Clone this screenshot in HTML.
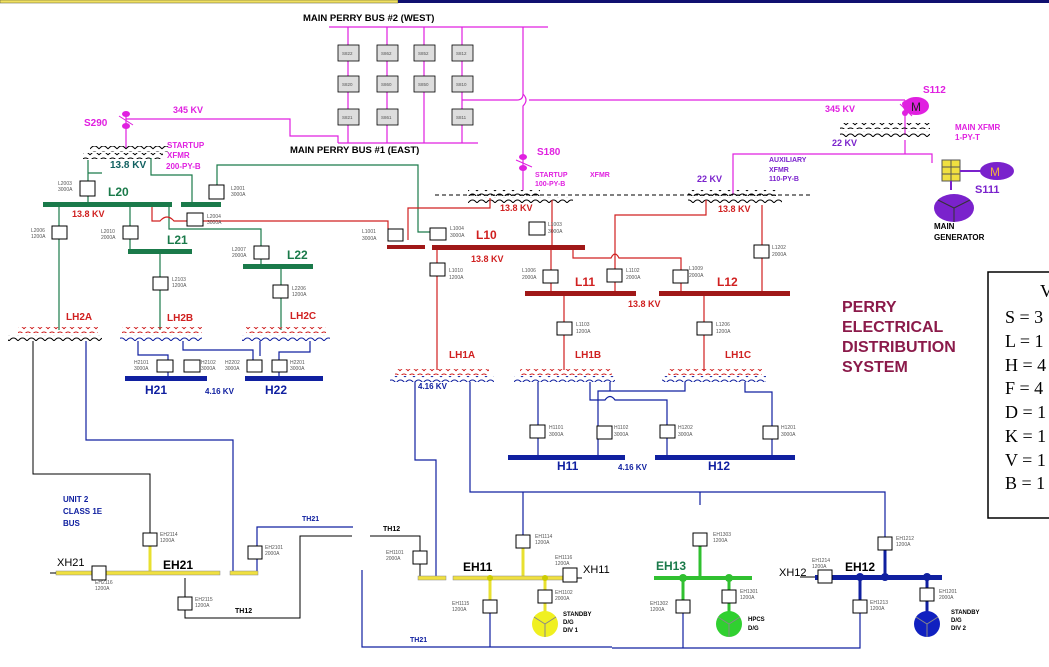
<!DOCTYPE html>
<html><head><meta charset="utf-8"><style>
body{margin:0;background:#fff}
svg{display:block;font-family:"Liberation Sans",sans-serif}
.b{fill:#fff;stroke:#000;stroke-width:1}
.s{font-size:5px;fill:#555}
.g{stroke:#1a7a4a;fill:none}
.r{stroke:#d02020;fill:none}
.n{stroke:#1020a0;fill:none}
.m{stroke:#e020e0;fill:none}
.p{stroke:#7a22cc;fill:none}
.k{stroke:#000;fill:none}
.lb{font-weight:bold;font-size:11px}
</style></head><body>
<svg width="1049" height="667" viewBox="0 0 1049 667">
<defs>
<pattern id="cr" width="8" height="6" patternUnits="userSpaceOnUse"><path d="M0 5Q4 -1 8 5" stroke="#d02020" fill="none"/></pattern>
<pattern id="ck" width="9" height="6" patternUnits="userSpaceOnUse"><path d="M0 5Q4.5 -1 9 5" stroke="#000" fill="none"/></pattern>
<pattern id="cn" width="9" height="6" patternUnits="userSpaceOnUse"><path d="M0 5Q4.5 -1 9 5" stroke="#1020a0" fill="none"/></pattern>
</defs>
<rect x="0" y="0" width="398" height="3" fill="#f0e060" stroke="#553" stroke-width=".5"/>
<rect x="398" y="0" width="651" height="3" fill="#101070"/>

<!-- main perry buses -->
<text x="303" y="21" class="lb" font-size="9.5" style="font-size:9.5px">MAIN PERRY BUS #2 (WEST)</text>
<text x="290" y="153" style="font-size:9.5px;font-weight:bold">MAIN PERRY BUS #1 (EAST)</text>
<g class="m" stroke-width="1.2">
<path d="M329 27H548M348 27V143M387 27V143M424 27V143M462 27V143M338 143H478M462 100H517q6 0 6 -6M523 27V94q6 6 0 12V160M529 100H905"/>
<path d="M126 119H290V136H338V143"/>
<path d="M126 112V148M905 100V135M523 160V190M733 195V154H932V163M905 154V140"/>
</g>
<g fill="#ddd" stroke="#000" stroke-width=".8">
<rect x="338" y="45" width="21" height="16"/><rect x="377" y="45" width="21" height="16"/><rect x="414" y="45" width="21" height="16"/><rect x="452" y="45" width="21" height="16"/>
<rect x="338" y="76" width="21" height="16"/><rect x="377" y="76" width="21" height="16"/><rect x="414" y="76" width="21" height="16"/><rect x="452" y="76" width="21" height="16"/>
<rect x="338" y="109" width="21" height="16"/><rect x="377" y="109" width="21" height="16"/><rect x="452" y="109" width="21" height="16"/>
</g>
<g class="s" style="font-size:4.5px"><text x="342" y="55">S822</text><text x="381" y="55">S862</text><text x="418" y="55">S852</text><text x="456" y="55">S812</text>
<text x="342" y="86">S820</text><text x="381" y="86">S860</text><text x="418" y="86">S850</text><text x="456" y="86">S810</text>
<text x="342" y="119">S821</text><text x="381" y="119">S861</text><text x="456" y="119">S811</text></g>

<!-- breakers magenta -->
<g fill="#e020e0"><ellipse cx="126" cy="114" rx="4" ry="3"/><ellipse cx="126" cy="126" rx="4" ry="3"/>
<ellipse cx="523" cy="157" rx="4" ry="3"/><ellipse cx="523" cy="168" rx="4" ry="3"/>
<ellipse cx="905" cy="104" rx="3" ry="3"/><ellipse cx="905" cy="113" rx="3" ry="3"/>
<ellipse cx="916" cy="106" rx="13" ry="9"/></g>
<path d="M119 116L133 125M516 160L532 167M900 104L912 116" stroke="#e020e0"/>
<text x="911" y="111" style="font-size:12px" fill="#222">M</text>
<g fill="#e020e0" style="font-size:9px;font-weight:bold">
<text x="84" y="126" style="font-size:10px">S290</text><text x="173" y="113">345 KV</text>
<text x="167" y="148" style="font-size:8px">STARTUP</text><text x="167" y="158" style="font-size:8px">XFMR</text><text x="166" y="169" style="font-size:8px">200-PY-B</text>
<text x="537" y="155" style="font-size:10px">S180</text><text x="535" y="177" style="font-size:7px">STARTUP</text><text x="535" y="186" style="font-size:7px">100-PY-B</text><text x="590" y="177" style="font-size:7px">XFMR</text>
<text x="923" y="93" style="font-size:10px">S112</text><text x="825" y="112">345 KV</text>
<text x="955" y="130" style="font-size:8px">MAIN XFMR</text><text x="955" y="140" style="font-size:8px">1-PY-T</text>
</g>
<g fill="#7a22cc" style="font-weight:bold">
<text x="832" y="146" style="font-size:9px">22 KV</text><text x="697" y="182" style="font-size:9px">22 KV</text>
<text x="769" y="162" style="font-size:7px">AUXILIARY</text><text x="769" y="172" style="font-size:7px">XFMR</text><text x="769" y="181" style="font-size:7px">110-PY-B</text>
<text x="975" y="193" style="font-size:11px">S111</text>
</g>
<!-- main gen -->
<rect x="942" y="160" width="18" height="21" fill="#f0e040" stroke="#555"/>
<path d="M942 167H960M942 174H960M951 160V181" stroke="#555"/>
<path d="M960 171H985M951 181V190" stroke="#7a22cc" stroke-width="2"/>
<ellipse cx="997" cy="171" rx="17" ry="9" fill="#7a22cc"/><text x="990" y="176" style="font-size:12px" fill="#f0b040">M</text>
<ellipse cx="954" cy="208" rx="20" ry="14" fill="#7a22cc"/><path d="M954 208V222M954 208L938 200M954 208L970 200" stroke="#333"/>
<text x="934" y="229" style="font-size:8px;font-weight:bold">MAIN</text><text x="934" y="240" style="font-size:8px;font-weight:bold">GENERATOR</text>

<!-- transformers -->
<rect x="90" y="146" width="78" height="6" fill="url(#ck)"/><rect x="83" y="153" width="80" height="6" fill="url(#ck)"/>
<rect x="840" y="123" width="90" height="6" fill="url(#ck)"/><rect x="840" y="131" width="90" height="6" fill="url(#ck)"/>
<path d="M435 195H812" stroke="#000" stroke-dasharray="4 3"/>
<rect x="468" y="190" width="72" height="6" fill="url(#ck)"/><rect x="468" y="197" width="105" height="6" fill="url(#ck)"/>
<rect x="688" y="190" width="88" height="6" fill="url(#ck)"/><rect x="688" y="197" width="94" height="6" fill="url(#ck)"/>
<text x="110" y="168" style="font-size:10px;font-weight:bold" fill="#106060">13.8 KV</text>

<!-- green 13.8 L2x -->
<g class="g" stroke-width="1.2">
<path d="M88 160V173H102M151 158V175H192V205M217 190V165H418V232H432M88 173V205"/>
<path d="M59 205V330M130 205V251M160 251V330M281 266V330M169 205V229H261V266"/>
</g>
<rect x="43" y="202" width="129" height="5" fill="#1a7a4a"/><rect x="181" y="202" width="40" height="5" fill="#1a7a4a"/>
<rect x="128" y="249" width="64" height="5" fill="#1a7a4a"/><rect x="243" y="264" width="70" height="5" fill="#1a7a4a"/>
<g fill="#1a7a4a" style="font-size:12px;font-weight:bold"><text x="108" y="196">L20</text><text x="167" y="244">L21</text><text x="287" y="259">L22</text></g>

<!-- red lines -->
<g class="r" stroke-width="1.2">
<path d="M152 207V221H160q7 -8 14 0H388V229M408 240V208H490V198M552 200V248M437 248V370M551 248V293M573 248V258H611q4 -8 8 0H681V293M615 293V215H706V200M762 205V293M564 293V370M704 293V370"/>
</g>
<g fill="#a01818"><rect x="387" y="245" width="38" height="4"/><rect x="432" y="245" width="153" height="5"/><rect x="525" y="291" width="111" height="5"/><rect x="659" y="291" width="131" height="5"/></g>
<g fill="#d02020" style="font-size:9px;font-weight:bold">
<text x="72" y="217">13.8 KV</text><text x="500" y="211">13.8 KV</text><text x="718" y="212">13.8 KV</text><text x="471" y="262">13.8 KV</text><text x="628" y="307">13.8 KV</text>
<text x="476" y="239" style="font-size:12px">L10</text><text x="575" y="286" style="font-size:12px">L11</text><text x="717" y="286" style="font-size:12px">L12</text>
<text x="66" y="320" style="font-size:10px">LH2A</text><text x="167" y="321" style="font-size:10px">LH2B</text><text x="290" y="319" style="font-size:10px">LH2C</text>
<text x="449" y="358" style="font-size:10px">LH1A</text><text x="575" y="358" style="font-size:10px">LH1B</text><text x="725" y="358" style="font-size:10px">LH1C</text>
</g>
<!-- LH transformers -->
<rect x="18" y="327" width="80" height="6" fill="url(#cr)"/><rect x="8" y="335" width="94" height="6" fill="url(#ck)"/>
<rect x="122" y="327" width="80" height="6" fill="url(#cr)"/><rect x="120" y="335" width="82" height="6" fill="url(#cn)"/>
<rect x="246" y="327" width="80" height="6" fill="url(#cr)"/><rect x="242" y="335" width="88" height="6" fill="url(#cn)"/>
<rect x="395" y="369" width="94" height="6" fill="url(#cr)"/><rect x="390" y="376" width="104" height="6" fill="url(#cn)"/>
<rect x="520" y="369" width="92" height="6" fill="url(#cr)"/><rect x="514" y="376" width="101" height="6" fill="url(#cn)"/>
<rect x="668" y="369" width="94" height="6" fill="url(#cr)"/><rect x="662" y="376" width="104" height="6" fill="url(#cn)"/>

<!-- 4.16 kv blue -->
<g class="n" stroke-width="1.2">
<path d="M138 341V355H168V379M183 341V350H253V365M260 341V356M310 341V352H279V379M86 341V440H233V573"/>
<path d="M538 382V457M590 382V400H605q5 -7 10 0H667V457M610 382V391H598V457M685 382V391H605M745 382V392H772V457"/>
<path d="M415 382V460H436V578M470 382V492H885V570M523 492V535M700 492V505"/>
<path d="M257 575V527H353M362 570V647H612M612 648H860V613M490 613V647M683 613V648"/>
</g>
<path d="M33 341V474H150V535M185 578V618H300V536H352M370 536H420V578" class="k"/>
<g fill="#1020a0"><rect x="125" y="376" width="82" height="5"/><rect x="245" y="376" width="78" height="5"/><rect x="508" y="455" width="117" height="5"/><rect x="655" y="455" width="140" height="5"/></g>
<g fill="#1020a0" style="font-weight:bold">
<text x="145" y="394" style="font-size:12px">H21</text><text x="265" y="394" style="font-size:12px">H22</text><text x="205" y="394" style="font-size:8px">4.16 KV</text>
<text x="557" y="470" style="font-size:12px">H11</text><text x="708" y="470" style="font-size:12px">H12</text><text x="618" y="470" style="font-size:8px">4.16 KV</text>
<text x="418" y="389" style="font-size:8px">4.16 KV</text>
<text x="63" y="502" style="font-size:8px">UNIT 2</text><text x="63" y="514" style="font-size:8px">CLASS 1E</text><text x="63" y="526" style="font-size:8px">BUS</text>
<text x="302" y="521" style="font-size:7px">TH21</text><text x="410" y="642" style="font-size:7px">TH21</text>
</g>
<g style="font-size:7px;font-weight:bold"><text x="383" y="531">TH12</text><text x="235" y="613">TH12</text></g>

<!-- 1E buses -->
<g stroke-width="3" fill="none">
<path d="M150 546V573M523 548V578M490 578V600M545 578V590M545 603V612" stroke="#e8e030"/>
<path d="M700 546V578M683 578V600M729 578V590M729 603V612" stroke="#30c030"/>
<path d="M885 550V577M860 577V600M927 577V588M927 601V612" stroke="#1020a0"/>
</g>
<rect x="56" y="571" width="164" height="4" fill="#f0e040" stroke="#888" stroke-width=".5"/>
<rect x="230" y="571" width="28" height="4" fill="#f0e040" stroke="#888" stroke-width=".5"/>
<rect x="418" y="576" width="28" height="4" fill="#f0e040" stroke="#888" stroke-width=".5"/>
<rect x="453" y="576" width="120" height="4" fill="#f0e040" stroke="#888" stroke-width=".5"/>
<rect x="654" y="576" width="98" height="4" fill="#30c030"/>
<rect x="815" y="575" width="127" height="5" fill="#1020a0"/>
<path d="M50 573H56M573 578H582M800 577H815" stroke="#000"/>
<circle cx="490" cy="578" r="3" fill="#cc0"/><circle cx="545" cy="578" r="3" fill="#cc0"/>
<circle cx="683" cy="578" r="4" fill="#30c030"/><circle cx="729" cy="578" r="4" fill="#30c030"/>
<circle cx="860" cy="577" r="4" fill="#1020a0"/><circle cx="885" cy="577" r="4" fill="#1020a0"/><circle cx="927" cy="577" r="4" fill="#1020a0"/>
<circle cx="545" cy="624" r="13" fill="#f0f020"/><circle cx="729" cy="624" r="13" fill="#30d030"/><circle cx="927" cy="624" r="13" fill="#1020c0"/>
<g stroke="#888"><path d="M545 624V637M545 624L534 617M545 624L556 617M729 624V637M729 624L718 617M729 624L740 617M927 624V637M927 624L916 617M927 624L938 617"/></g>
<g style="font-size:12px;font-weight:bold"><text x="163" y="569">EH21</text><text x="463" y="571">EH11</text><text x="656" y="570" fill="#1a7a4a">EH13</text><text x="845" y="571">EH12</text></g>
<g style="font-size:11px"><text x="57" y="566">XH21</text><text x="583" y="573">XH11</text><text x="779" y="576">XH12</text></g>
<g style="font-size:6px;font-weight:bold"><text x="563" y="616">STANDBY</text><text x="563" y="624">D/G</text><text x="563" y="632">DIV 1</text>
<text x="748" y="621">HPCS</text><text x="748" y="630">D/G</text>
<text x="951" y="614">STANDBY</text><text x="951" y="622">D/G</text><text x="951" y="630">DIV 2</text></g>

<!-- breaker boxes -->
<g class="b">
<rect x="80" y="181" width="15" height="15"/><rect x="209" y="185" width="15" height="14"/><rect x="187" y="213" width="16" height="13"/>
<rect x="52" y="226" width="15" height="13"/><rect x="123" y="226" width="15" height="13"/><rect x="254" y="246" width="15" height="13"/>
<rect x="153" y="277" width="15" height="13"/><rect x="273" y="285" width="15" height="13"/>
<rect x="388" y="229" width="15" height="12"/><rect x="430" y="228" width="16" height="12"/><rect x="529" y="222" width="16" height="13"/>
<rect x="430" y="263" width="15" height="13"/><rect x="543" y="270" width="15" height="13"/><rect x="607" y="269" width="15" height="13"/><rect x="673" y="270" width="15" height="13"/>
<rect x="754" y="245" width="15" height="13"/><rect x="557" y="322" width="15" height="13"/><rect x="697" y="322" width="15" height="13"/>
<rect x="157" y="360" width="16" height="12"/><rect x="184" y="360" width="16" height="12"/><rect x="247" y="360" width="15" height="12"/><rect x="272" y="360" width="15" height="12"/>
<rect x="530" y="425" width="15" height="13"/><rect x="597" y="426" width="15" height="13"/><rect x="660" y="425" width="15" height="13"/><rect x="763" y="426" width="15" height="13"/>
<rect x="143" y="533" width="14" height="13"/><rect x="248" y="546" width="14" height="13"/><rect x="92" y="566" width="14" height="14"/><rect x="178" y="597" width="14" height="13"/>
<rect x="413" y="551" width="14" height="13"/><rect x="516" y="535" width="14" height="13"/><rect x="563" y="568" width="14" height="14"/><rect x="538" y="590" width="14" height="13"/><rect x="483" y="600" width="14" height="13"/>
<rect x="693" y="533" width="14" height="13"/><rect x="722" y="590" width="14" height="13"/><rect x="676" y="600" width="14" height="13"/>
<rect x="878" y="537" width="14" height="13"/><rect x="818" y="570" width="14" height="13"/><rect x="920" y="588" width="14" height="13"/><rect x="853" y="600" width="14" height="13"/>
</g>
<g class="s">
<text x="58" y="185">L2003</text><text x="58" y="191">3000A</text><text x="231" y="190">L2001</text><text x="231" y="196">3000A</text><text x="207" y="218">L2004</text><text x="207" y="224">3000A</text>
<text x="31" y="232">L2006</text><text x="31" y="238">1200A</text><text x="101" y="233">L2010</text><text x="101" y="239">2000A</text><text x="232" y="251">L2007</text><text x="232" y="257">2000A</text>
<text x="172" y="281">L2103</text><text x="172" y="287">1200A</text><text x="292" y="290">L2206</text><text x="292" y="296">1200A</text>
<text x="362" y="233">L1001</text><text x="362" y="240">3000A</text><text x="450" y="230">L1004</text><text x="450" y="237">3000A</text><text x="548" y="226">L1003</text><text x="548" y="233">3000A</text>
<text x="449" y="272">L1010</text><text x="449" y="279">1200A</text><text x="522" y="272">L1006</text><text x="522" y="279">2000A</text><text x="626" y="272">L1102</text><text x="626" y="279">2000A</text><text x="689" y="270">L1009</text><text x="689" y="277">2000A</text>
<text x="772" y="249">L1202</text><text x="772" y="256">2000A</text><text x="576" y="326">L1103</text><text x="576" y="333">1200A</text><text x="716" y="326">L1206</text><text x="716" y="333">1200A</text>
<text x="134" y="364">H2101</text><text x="134" y="370">3000A</text><text x="201" y="364">H2102</text><text x="201" y="370">3000A</text><text x="225" y="364">H2202</text><text x="225" y="370">3000A</text><text x="290" y="364">H2201</text><text x="290" y="370">3000A</text>
<text x="549" y="429">H1101</text><text x="549" y="436">3000A</text><text x="614" y="429">H1102</text><text x="614" y="436">3000A</text><text x="678" y="429">H1202</text><text x="678" y="436">3000A</text><text x="781" y="429">H1201</text><text x="781" y="436">3000A</text>
<text x="160" y="536">EH2114</text><text x="160" y="542">1200A</text><text x="265" y="549">EH2101</text><text x="265" y="555">2000A</text><text x="95" y="584">EH2116</text><text x="95" y="590">1200A</text><text x="195" y="601">EH2115</text><text x="195" y="607">1200A</text>
<text x="386" y="554">EH1101</text><text x="386" y="560">2000A</text><text x="535" y="538">EH1114</text><text x="535" y="544">1200A</text><text x="555" y="559">EH1116</text><text x="555" y="565">1200A</text><text x="555" y="594">EH1102</text><text x="555" y="600">2000A</text><text x="452" y="605">EH1115</text><text x="452" y="611">1200A</text>
<text x="713" y="536">EH1303</text><text x="713" y="542">1200A</text><text x="740" y="593">EH1301</text><text x="740" y="599">1200A</text><text x="650" y="605">EH1302</text><text x="650" y="611">1200A</text>
<text x="896" y="540">EH1212</text><text x="896" y="546">1200A</text><text x="812" y="562">EH1214</text><text x="812" y="568">1200A</text><text x="939" y="593">EH1201</text><text x="939" y="599">2000A</text><text x="870" y="604">EH1213</text><text x="870" y="610">1200A</text>
</g>

<!-- title -->
<g fill="#8b1a4a" style="font-size:16px;font-weight:bold"><text x="842" y="312">PERRY</text><text x="842" y="332">ELECTRICAL</text><text x="842" y="352">DISTRIBUTION</text><text x="842" y="372">SYSTEM</text></g>
<!-- legend -->
<rect x="988" y="272" width="70" height="246" fill="#fff" stroke="#000" stroke-width="1.5"/>
<g style="font-family:'Liberation Serif',serif;font-size:18px"><text x="1040" y="297">V</text><text x="1005" y="323">S = 3</text><text x="1005" y="347">L = 1</text><text x="1005" y="371">H = 4</text><text x="1005" y="394">F = 4</text><text x="1005" y="418">D = 1</text><text x="1005" y="442">K = 1</text><text x="1005" y="466">V = 1</text><text x="1005" y="489">B = 1</text></g>
</svg>
</body></html>
